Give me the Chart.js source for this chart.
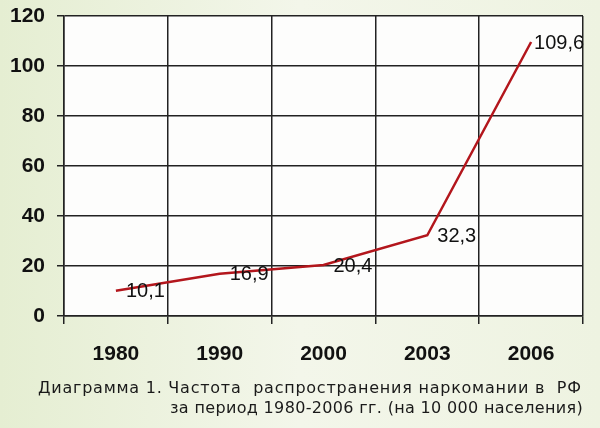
<!DOCTYPE html>
<html>
<head>
<meta charset="utf-8">
<script src="https://cdn.jsdelivr.net/npm/chart.js@4"></script>
<style>
html,body{margin:0;padding:0;background:#fff;}
#wrap{width:600px;height:428px;position:relative;}
</style>
</head>
<body>
<div id="wrap"><canvas id="c" width="600" height="428"></canvas></div>
<script>
const years = ["1980", "1990", "2000", "2003", "2006"];
const rates = [10.1, 16.9, 20.4, 32.3, 109.6];
const rateLabels = ["10,1", "16,9", "20,4", "32,3", "109,6"];
const yTicks = [0, 20, 40, 60, 80, 100, 120];
const captionLines = [
  "Диаграмма 1. Частота  распространения наркомании в  РФ",
  "за период 1980-2006 гг. (на 10 000 населения)"
];

const bgPlugin = {
  id: 'bg',
  beforeDraw(chart) {
    const ctx = chart.ctx;
    ctx.save();
    const g = ctx.createLinearGradient(0, 0, chart.width, 0);
    g.addColorStop(0, '#e5eed2');
    g.addColorStop(0.5, '#f3f6ea');
    g.addColorStop(1, '#eef3e1');
    ctx.fillStyle = g;
    ctx.fillRect(0, 0, chart.width, chart.height);
    const a = chart.chartArea;
    ctx.fillStyle = '#fdfdfc';
    ctx.fillRect(a.left, a.top, a.right - a.left, a.bottom - a.top);
    ctx.restore();
  }
};

const labelPlugin = {
  id: 'valueLabels',
  afterDatasetsDraw(chart) {
    const ctx = chart.ctx;
    const meta = chart.getDatasetMeta(0);
    ctx.save();
    ctx.font = '20px "Liberation Sans", Arial, sans-serif';
    ctx.fillStyle = '#111';
    ctx.textBaseline = 'middle';
    ctx.textAlign = 'left';
    meta.data.forEach((pt, i) => {
      const dx = i === meta.data.length - 1 ? 3 : 10;
      ctx.fillText(rateLabels[i], pt.x + dx, pt.y + 1);
    });
    ctx.restore();
  }
};

const captionPlugin = {
  id: 'caption',
  afterDraw(chart) {
    const ctx = chart.ctx;
    ctx.save();
    ctx.font = '16px "DejaVu Sans", Verdana, sans-serif';
    ctx.fillStyle = '#1a1a1a';
    ctx.textBaseline = 'middle';
    const targets = [[38, 581, 389], [170, 583, 409]];
    captionLines.forEach((line, i) => {
      const [x0, x1, y] = targets[i];
      ctx.letterSpacing = '0px';
      const w = ctx.measureText(line).width;
      const extra = (x1 - x0 - w) / Math.max(1, line.length - 1);
      ctx.letterSpacing = extra.toFixed(2) + 'px';
      ctx.textAlign = 'left';
      ctx.fillText(line, x0, y);
    });
    ctx.restore();
  }
};

new Chart(document.getElementById('c'), {
  type: 'line',
  data: {
    labels: years,
    datasets: [{
      data: rates,
      borderColor: '#b3161c',
      borderWidth: 2.5,
      pointRadius: 0,
      tension: 0,
      fill: false
    }]
  },
  options: {
    responsive: false,
    animation: false,
    layout: { padding: { left: 0, right: 17, top: 16, bottom: 62 } },
    plugins: { legend: { display: false }, tooltip: { enabled: false } },
    scales: {
      x: {
        offset: true,
        grid: { offset: true, color: '#222', lineWidth: 1.5, tickLength: 8, drawTicks: true },
        border: { color: '#222', width: 1.5 },
        ticks: { color: '#111', padding: 18, font: { family: '"Liberation Sans", Arial, sans-serif', size: 21, weight: 'bold' }, maxRotation: 0 },
        afterFit(s) { s.height = 50; s.paddingLeft = 0; s.paddingRight = 0; }
      },
      y: {
        min: 0, max: 120,
        afterBuildTicks(s) { s.ticks = yTicks.map(v => ({ value: v })); },
        grid: { color: '#222', lineWidth: 1.5, tickLength: 7 },
        border: { color: '#222', width: 1.5 },
        ticks: { color: '#111', padding: 12, font: { family: '"Liberation Sans", Arial, sans-serif', size: 21, weight: 'bold' } },
        afterFit(s) { s.width = 64; s.paddingTop = 0; s.paddingBottom = 0; }
      }
    }
  },
  plugins: [bgPlugin, labelPlugin, captionPlugin]
});
</script>
</body>
</html>
